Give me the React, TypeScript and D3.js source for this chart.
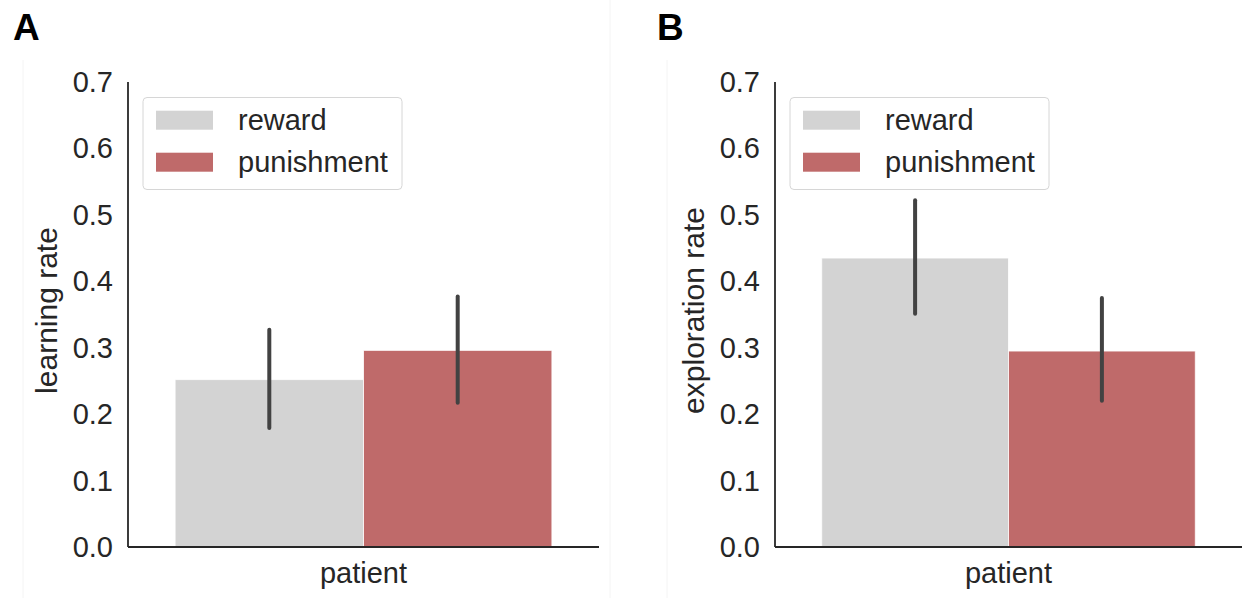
import React from "react";
import * as d3 from "d3";

// Conditions shown in each panel (hue groups) and the single x category.
const conditions = ["reward", "punishment"];
const groupLabel = "patient";
const yTicks = [0, 0.1, 0.2, 0.3, 0.4, 0.5, 0.6, 0.7];

// Panel A: learning rate (mean with confidence interval)
const learningMean = [0.252, 0.296];
const learningLow = [0.179, 0.217];
const learningHigh = [0.327, 0.377];

// Panel B: exploration rate
const explorationMean = [0.435, 0.295];
const explorationLow = [0.351, 0.22];
const explorationHigh = [0.522, 0.375];

const colors = ["#d3d3d3", "#bf6a6a"];
const textColor = "#262626";
const font = "'Liberation Sans', Arial, sans-serif";

type PanelProps = {
  letter: string;
  ylabel: string;
  mean: number[];
  low: number[];
  high: number[];
  left: number;
  right: number;
  frameLeft: number;
  frameRight?: number;
};

const TOP = 82;
const BOTTOM = 547;

function Panel({ letter, ylabel, mean, low, high, left, right, frameLeft, frameRight }: PanelProps) {
  const y = d3.scaleLinear().domain([0, 0.7]).range([BOTTOM, TOP]);
  // categorical axis like matplotlib: one category centred at 0
  const x = d3.scaleLinear().domain([-0.5, 0.5]).range([left, right]);
  const hue = d3.scaleBand<string>().domain(conditions).range([x(-0.4), x(0.4)]).padding(0);
  const legendX = left + 15;

  return (
    <g>
      <line x1={frameLeft} x2={frameLeft} y1={60} y2={598} stroke="#f4f4f4" strokeWidth={1} />
      {frameRight !== undefined && (
        <line x1={frameRight} x2={frameRight} y1={0} y2={598} stroke="#f4f4f4" strokeWidth={1} />
      )}
      <text x={frameLeft - 10} y={40} fontFamily={font} fontWeight="bold" fontSize={37} fill="#000">
        {letter}
      </text>

      {conditions.map((c, i) => (
        <rect
          key={c}
          x={hue(c)!}
          y={y(mean[i])}
          width={hue.bandwidth()}
          height={y(0) - y(mean[i])}
          fill={colors[i]}
          stroke="#fff"
          strokeOpacity={0.8}
          strokeWidth={1}
        />
      ))}
      {conditions.map((c, i) => (
        <line
          key={c + "-ci"}
          x1={hue(c)! + hue.bandwidth() / 2}
          x2={hue(c)! + hue.bandwidth() / 2}
          y1={y(low[i])}
          y2={y(high[i])}
          stroke="#424242"
          strokeWidth={4}
          strokeLinecap="round"
        />
      ))}

      {/* spines */}
      <line x1={left} x2={left} y1={TOP} y2={BOTTOM} stroke={textColor} strokeWidth={1.8} />
      <line x1={left} x2={right} y1={BOTTOM} y2={BOTTOM} stroke={textColor} strokeWidth={1.8} />

      {yTicks.map((t) => (
        <text
          key={t}
          x={left - 15}
          y={y(t)}
          textAnchor="end"
          dominantBaseline="central"
          fontFamily={font}
          fontSize={29}
          fill={textColor}
        >
          {d3.format(".1f")(t)}
        </text>
      ))}

      <text
        x={x(0)}
        y={583}
        textAnchor="middle"
        fontFamily={font}
        fontSize={29}
        fill={textColor}
      >
        {groupLabel}
      </text>
      <text
        transform={`translate(${left - 71},${(TOP + BOTTOM) / 2 - 4}) rotate(-90)`}
        textAnchor="middle"
        fontFamily={font}
        fontSize={30}
        fill={textColor}
      >
        {ylabel}
      </text>

      {/* legend */}
      <rect
        x={legendX}
        y={97.5}
        width={259}
        height={92}
        rx={4}
        fill="#fff"
        fillOpacity={0.8}
        stroke="#d6d6d6"
        strokeWidth={1}
      />
      {conditions.map((c, i) => (
        <g key={c + "-leg"}>
          <rect x={legendX + 13} y={110.7 + i * 42} width={57} height={19} fill={colors[i]} />
          <text
            x={legendX + 95}
            y={130 + i * 42}
            fontFamily={font}
            fontSize={29}
            fill={textColor}
          >
            {c}
          </text>
        </g>
      ))}
    </g>
  );
}

export default function App() {
  return (
    <div style={{ position: "fixed", left: 0, top: 0 }}>
      <svg width={1243} height={598} style={{ display: "block", background: "#fff" }}>
        <Panel
          letter="A"
          ylabel="learning rate"
          mean={learningMean}
          low={learningLow}
          high={learningHigh}
          left={128}
          right={599}
          frameLeft={23}
          frameRight={610}
        />
        <Panel
          letter="B"
          ylabel="exploration rate"
          mean={explorationMean}
          low={explorationLow}
          high={explorationHigh}
          left={775}
          right={1242}
          frameLeft={667}
        />
      </svg>
    </div>
  );
}
